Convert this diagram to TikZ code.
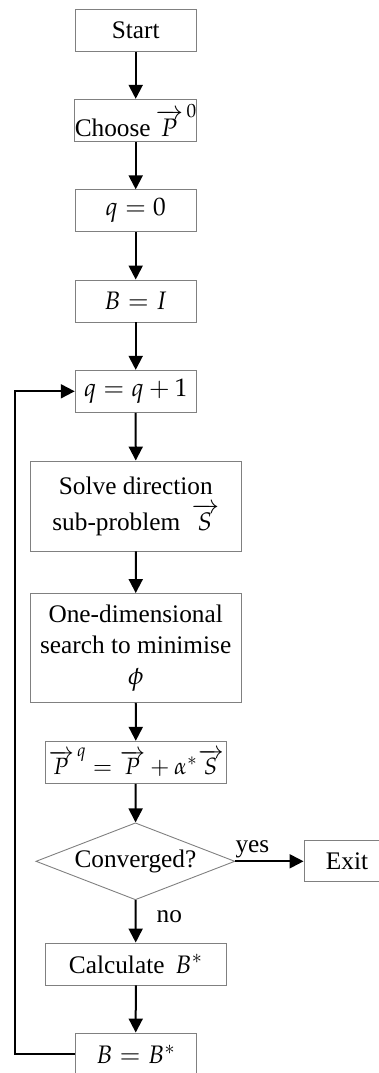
\documentclass[tikz,border=0pt]{standalone}
\usepackage{mathpazo}
\usepackage[no-math]{fontspec}
\setmainfont{Liberation Serif}
\usetikzlibrary{arrows.meta,shapes.geometric}
\begin{document}
\begin{tikzpicture}[x=1pt,y=-1pt,
  font=\fontsize{25.3}{31}\selectfont,
  box/.style={draw=black!50, line width=0.9pt, minimum width=121pt, minimum height=42pt, inner sep=0pt, align=center},
  wide/.style={box, minimum width=211pt},
  mid/.style={box, minimum width=181pt},
  flow/.style={line width=2pt, -{Triangle[length=14pt,width=14pt]}}
]
\useasboundingbox (0,0) rectangle (379,1073);
\clip (0,0) rectangle (379,1073);
\node[box] (start) at (135.7,30.3) {Start};
\node[box] (choose) at (135.7,120.3) {Choose\,$\overrightarrow{P}^{\,0}$};
\node[box] (q0) at (135.7,210.8) {$q=0$};
\node[box] (bi) at (135.7,301) {$B=I$};
\node[box] (qq) at (135.7,391.3) {$q=q+1$};
\node[wide, minimum height=90pt] (solve) at (135.8,506) {Solve direction\\[5pt]sub-problem \,$\overrightarrow{S}$};
\node[wide, minimum height=109pt] (onedim) at (135.7,648) {One-dimensional\\search to minimise\\$\phi$};
\node[mid, font=\fontsize{23.5}{29}\selectfont] (pq) at (135.8,762.3) {$\overrightarrow{P}^{\,q}=\overrightarrow{P}+\alpha^{*}\overrightarrow{S}$};
\node[diamond, draw=black!50, line width=0.9pt, minimum width=199pt, minimum height=77pt, inner sep=0pt, label={center:Converged?}] (conv) at (135.4,861.3) {};
\node[box, minimum width=86pt, minimum height=41pt] (exit) at (347,861.3) {Exit};
\node[mid] (calc) at (135.8,964) {Calculate \,$B^{*}$};
\node[box] (bb) at (135.7,1054) {$B=B^{*}$};
\coordinate (c1) at (14.7,1054);
\coordinate (c2) at (14.7,391.3);
\draw[flow] (start) -- (choose);
\draw[flow] (choose) -- (q0);
\draw[flow] (q0) -- (bi);
\draw[flow] (bi) -- (qq);
\draw[flow] (qq) -- (solve);
\draw[flow] (solve) -- (onedim);
\draw[flow] (onedim) -- (pq);
\draw[flow] (pq) -- (conv);
\draw[flow] (conv) -- node[above, pos=0.25, inner sep=2pt] {yes} (exit);
\draw[flow] (conv) -- node[right, pos=0.4, inner sep=0pt, xshift=20pt] {no} (calc);
\draw[flow] (calc) -- (bb);
\draw[flow] (bb.west) -- (c1) -- (c2) -- (qq.west);
\end{tikzpicture}
\end{document}
